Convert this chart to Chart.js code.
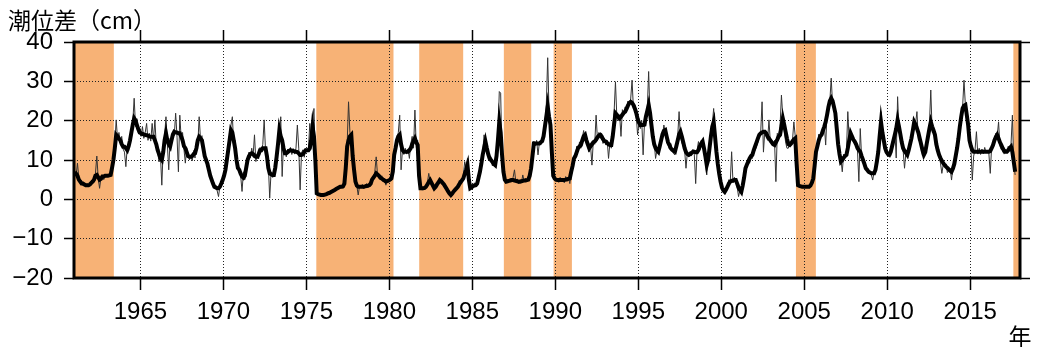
<!DOCTYPE html>
<html>
<head>
<meta charset="utf-8">
<script src="https://cdn.jsdelivr.net/npm/chart.js@4.4.0/dist/chart.umd.min.js"></script>
<style>
  html, body { margin: 0; padding: 0; background: #fff; }
  #wrap { width: 1064px; height: 347px; }
</style>
</head>
<body>
<div id="wrap"><canvas id="tide" width="1064" height="347"></canvas></div>
<script>
// monthly tide level difference (cm), Jan 1961 .. Sep 2017
var startYear = 1961;
var monthly = [
  6.5,6,9.2,5.5,4.2,4.8,3.5,3.9,3.2,4,3.3,4.2,            // 1961
  4.5,4.2,5.8,6.5,11,5.4,2.8,5.6,6.2,5,6.4,5.8,           // 1962
  6.3,5.9,6.5,7,10.5,14,20.2,15.2,17,14.4,16,12.8,        // 1963
  12,8.3,13.4,12.4,16,15.5,19.6,25.7,18.5,20.5,17,18.2,   // 1964
  16,18.5,15.5,17,19.3,15,16.8,14.8,19.3,15.2,20.2,13.5,  // 1965
  12,9.5,11.2,3.6,13,16,21,14,7.5,15.5,14.2,17,           // 1966
  16.2,21.9,15.8,7,21.4,15.5,17,12.8,9.2,13,11.5,10,      // 1967
  11.2,9.8,12.4,10.5,14.6,13.8,21,15,16.2,12,10.3,10.6,   // 1968
  9.5,6.8,6.5,4.2,4.6,2.8,3.6,2.2,0.7,3.4,3.5,5.5,        // 1969
  5.4,8.5,9.2,13,15.5,18.9,21,14,15,9,8.6,6.8,            // 1970
  6,2,7,5,9,8.8,12,10.5,13,11,16.4,9.6,                   // 1971
  11.5,10.3,13.2,12,14,20.2,12.2,12.5,9,0.3,7,5.6,        // 1972
  5.8,9,11,13.5,16,21,5.8,14,12.4,10.8,12.8,11.8,         // 1973
  13.2,11.4,12.9,11.5,13,18.9,13,2.4,11.8,12.6,10.7,12.9, // 1974
  12,12.8,19.3,14.8,19.5,23.1,9,1.8,1,1.4,0.8,1.5,        // 1975
  1.4,0.9,1.6,1.2,1.9,2.2,1.7,2.5,2.2,2.9,2.4,3.3,        // 1976
  3,3.5,2.8,4.5,8.5,14,24.8,17,15,10,7,4,                 // 1977
  3.4,1.1,3.5,3,3.8,2.7,3.6,4,2.9,3.9,4.2,5.4,            // 1978
  5.2,7,10.8,6,6.4,5,6,4.5,5.3,3.6,5,4.5,                 // 1979
  5.6,4.8,8,12,14,15.5,17,21.4,7.5,12.6,11.4,13,          // 1980
  11.5,12.8,10.4,14,16,13,22.7,13.2,15,6,3.2,2.4,         // 1981
  2.5,3.3,2.9,4.2,6.6,4.6,4.5,3.1,2.5,3.6,3.4,4.8,        // 1982
  5.2,4.3,4.6,3.5,3.6,2.2,2.3,1.2,1.4,1.2,2.4,2.1,        // 1983
  3.2,3.1,4.8,4.6,5,6,9.6,8,10.4,4,2.4,3.4,               // 1984
  3.2,4.2,3.4,4.6,5,7.4,9.5,12,16.4,14,13.6,10.8,         // 1985
  10,10.8,8.5,9.2,8.4,11.5,16,27.4,27,10,6,5,             // 1986
  4.2,5,4.4,5.3,4.5,5.6,7.5,4.3,5.2,4,5,4.2,              // 1987
  6.2,4.6,5.4,4.8,5.8,6.5,8.4,11.3,14.8,13.6,15,11.3,     // 1988
  14.5,13.8,15,17,19.5,24,36,22,17,11,5.5,5,              // 1989
  4.6,5.4,4.3,5.6,4.8,5.2,4.2,5.8,4.6,5.6,4,6.5,          // 1990
  8,11,10.5,13.5,12.4,14.6,13,15.6,17.5,15,16,13.6,       // 1991
  12,13.5,8.7,15,14,21.4,15,17,15.5,16.8,14.2,15.6,       // 1992
  13.8,15,10.4,14.4,13,18,22,29.9,21,20,21.5,16,          // 1993
  22.8,21.6,23.5,22.5,25,24,25.5,30.3,23,24,21.4,16.4,    // 1994
  19.4,18,20,11.3,19.5,21,23,32.5,21,19.6,17.6,14.5,      // 1995
  10.4,12.5,11.6,13,15.5,16,18.9,17,16.4,14,12.8,14.2,    // 1996
  12.6,11.6,11.3,14,16,22.3,15.8,14.4,13.5,12.5,7.9,12,   // 1997
  10.8,12.2,11,12.7,11.5,4,12.4,14.7,12.6,15,14.4,12.5,   // 1998
  10.5,6.2,10.4,13,17,19,23.1,15,11,9.4,6,4,              // 1999
  3.4,2.5,1.6,2.8,3.2,5,4.4,12.1,4.2,5.6,4.7,3.2,         // 2000
  0.7,2.4,1.6,3.5,5,6.5,8.4,10,9.2,11.2,10.4,11.8,        // 2001
  12.5,13.5,14.5,16,17,24.8,12,17.6,16,15,20.2,14.4,      // 2002
  15,14.4,15,4.5,16.8,16,18.5,26.5,21,17.8,14.6,13,       // 2003
  13,14.5,14,15,19.7,16,9,3.2,3.8,3,3.5,2.9,              // 2004
  3.5,2.9,3.4,3,3.6,4.4,6,9.5,13,12.5,16.6,15.5,          // 2005
  17.2,16.5,19,13.8,22,23.5,25,30.8,24,24.5,21,17,        // 2006
  13.5,11,10.4,7,11.5,10.8,12,22.3,15,17.5,15.4,14.8,     // 2007
  15,13.6,12.4,4.5,18,10.5,10.4,8.6,7.6,8,6.5,7.2,        // 2008
  6.2,4.9,7,8,10.5,12.6,17,22.3,16,15.5,12.4,11.5,        // 2009
  10.8,12,11,14.5,15.6,17.5,10.5,26.1,17.5,16,14.6,12.4,  // 2010
  7.9,12,11,12.6,14.5,16,18,19.8,19.3,22.3,15,14.6,       // 2011
  13.5,11,12,11.5,15,16.5,19,27.8,17,16.8,15.5,13,        // 2012
  12,11.5,9.2,6.6,8.8,8.2,9,6.8,7.4,7.8,4.9,8.2,          // 2013
  8.5,11.4,13.5,15.6,18.5,21,23.5,30.3,24,21,18,14.6,     // 2014
  13,4.9,11,12.6,17.2,11.5,13,11.4,12.8,11.6,13.2,11.8,   // 2015
  12.5,11.6,6.6,13.4,14,15.5,16.8,16,19.7,13.5,12.6,13,   // 2016
  11.5,12.8,11.8,13.5,12.5,14,21.4,9,6.2                  // 2017
];

// smoothed curve (thick line), same months
var smooth = [
  7,6.5,6,5,4.5,4,4,3.8,3.6,3.6,3.6,3.8,
  4.2,4.5,5,6,6.2,5.6,5,5.2,5.8,5.8,6,6,
  6,6.1,6.2,8,10,13,16.4,16,15.5,15,14,13.4,
  13.4,13,12.5,13.5,15,17,19,20.6,20,18.9,17.8,17,
  16.8,16.6,16.5,16.4,16.3,16.2,16,15.9,15.9,15.9,15,14,
  12.5,11.5,10.5,10,12,15,16.8,15,14,13.4,15,16.5,
  17.2,17,17,16.8,16.8,16,15,13.5,13,12,11,10.8,
  10.8,11,11.5,11.7,13,15,15.9,15.5,15,13,11,10,
  9,7.5,6,5,4,3.2,3,2.8,2.8,3.2,4,4.9,
  6,7.5,10,12.5,15,17.6,17,15,13,10,8,7.5,
  6.5,5.8,5.5,6,8,10,11,11.5,11.7,11.5,11,10.8,
  10.8,11.5,12.5,12.5,13,13,13,11,8,6.6,6.4,6.2,
  6.2,8,10.8,14,17.6,16,15,13,11.7,11.7,12,12.3,
  12.5,12.4,12.3,12.2,12.1,12,11.7,11.3,11.3,11.5,12,12.5,
  12.5,12.5,13,15,18.5,16,10,1.5,1.3,1.2,1.1,1.1,
  1.1,1.2,1.3,1.5,1.6,1.8,2,2.2,2.4,2.6,2.8,3,
  3.2,3.2,3.3,4,8,13.4,15,16,16.4,11,7.5,4.5,
  3.5,3.2,3.2,3.2,3.2,3.2,3.3,3.4,3.5,3.6,4,5,
  5.5,6,6.6,6.3,6,5.5,5.3,5,4.8,4.5,4.6,4.8,
  5,5.3,7,11.3,13,15,16,16.4,14,12.5,12.1,12.1,
  12.1,12.1,12.5,13,14,14.8,15.5,14.5,13.8,6,2.8,2.8,
  2.8,2.9,3.2,3.8,4.4,4.9,4.2,3.5,2.8,3.2,3.8,4.3,
  4.9,4.6,4.2,3.8,3.2,2.6,2,1.5,1.1,1.5,2,2.4,
  2.8,3.2,3.8,4.3,4.8,5.3,6.5,7.5,8.7,5,2.8,3,
  3.4,3.5,3.6,4,5.5,7,9,11.3,13,14.7,13,11.5,
  10.4,10,9.5,9,8.7,11,15,19.7,17,11.3,7,5,
  4.5,4.6,4.7,4.8,4.9,4.9,4.8,4.7,4.6,4.5,4.5,4.6,
  4.7,4.8,4.8,4.9,5,6,7.9,11,14.2,14.2,14.2,14.2,
  14.2,14.5,14.8,16,18.5,21,23.6,21,18.9,12,6,5.3,
  5,4.9,4.9,4.9,4.9,4.9,4.9,5,5.1,5.2,5.3,7,
  8.5,10.4,11,12,13,13.5,13.8,15,16,16.4,15,14,
  13,13.5,14,14.5,14.7,15.2,15.8,16.2,16.4,16,15.3,14.8,
  14.7,14.3,14,13.8,13.8,16,19,21.9,21.5,21,20.6,21,
  21.5,22,22.3,23,23.8,24.5,24.8,24.5,24,23.1,22,20.5,
  19.5,18.9,18.9,18.9,19,21,22.5,24,22,18.9,16,14,
  13,12.5,12.1,13.5,15,16.5,17.4,17.6,16,14.5,13.8,13,
  12.6,12.3,12.1,13.5,15,16.5,17.2,16,14.5,13,12,11.5,
  11.3,11.5,11.8,12.1,12.1,12,12,12.5,13.5,14.2,14.7,13,
  11,8.7,10,13,16,18.5,19.7,16,12.1,9,6.5,4.5,
  3,2.3,1.9,2.5,3.2,4,4.5,4.7,4.8,4.9,4.9,4,
  3,2.4,1.9,3.5,5.5,7.9,8.8,9.6,10.4,11,11.3,12.5,
  13.5,14.5,15.5,16.4,16.8,17,17.2,17.2,16.8,16,15.5,15,
  14.5,14,13.8,14.5,15.2,16,16.4,18.5,20.6,19,17.2,15.5,
  14,13.8,14.2,14.8,15.2,15.5,9,3.6,3.4,3.3,3.2,3.2,
  3.2,3.2,3.2,3.2,3.5,4.2,5.3,8.5,12.1,13.5,15,16,
  16.4,17.5,18.5,19.7,21.5,23.5,25,25.7,25,23.5,21.9,18,
  14,11.5,9.6,10,10.6,11,11.3,13,15,16.8,16,15.2,
  14.7,14,13,12.5,12.1,11,10,9,7.9,7.5,7,6.8,
  6.6,6.6,6.6,7.5,9.6,12,16,19.7,17,15,13,12,
  11.5,11.3,12,13.5,15,16.4,18,20.2,18.5,16.5,14.5,13,
  12.3,11.8,11.3,12.5,14,15.5,17.5,19.7,19,18,17,15.5,
  14,12.5,11.3,12,14,16,18,19.7,18.5,17.5,16.4,14,
  12.5,11.3,10.5,9.8,9.2,8.7,8.3,8,7.6,7.3,7,7.8,
  9,11,13,15.5,18.5,21,23.1,23.8,24,21.5,18.9,15,
  13.5,12.5,12.1,12.1,12.1,12.1,12.1,12.1,12.1,12.1,12.1,12.1,
  12.1,12.1,12.3,13,13.8,15,15.8,16.4,15.5,14.5,13.8,13,
  12.3,12.1,12.1,12.5,13,13.4,12,9.5,7
];

// large meander periods (shaded)
var meanderStart = [1961.0, 1975.6, 1981.8, 1986.9, 1989.9, 2004.5, 2017.6];
var meanderEnd   = [1963.4, 1980.25, 1984.45, 1988.55, 1991.0, 2005.7, 2018.0];

var yearTicks = [1965, 1970, 1975, 1980, 1985, 1990, 1995, 2000, 2005, 2010, 2015];
var levelTicks = [-20, -10, 0, 10, 20, 30, 40];

var rawPoints = monthly.map(function(v, i){ return {x: startYear + (i + 0.5) / 12, y: v}; });
var smoothPoints = smooth.map(function(v, i){ return {x: startYear + (i + 0.5) / 12, y: v}; });

var tickFont = { family: "'Liberation Sans', Arial, sans-serif", size: 24 };
var bandColor = 'rgb(247,178,118)';

var bands = {
  id: 'bands',
  beforeDraw: function(chart){
    var c = chart.ctx, a = chart.chartArea, xs = chart.scales.x;
    c.save();
    c.fillStyle = bandColor;
    for (var i = 0; i < meanderStart.length; i++) {
      var x0 = Math.max(xs.getPixelForValue(meanderStart[i]), a.left);
      var x1 = Math.min(xs.getPixelForValue(meanderEnd[i]), a.right);
      c.fillRect(x0, a.top, x1 - x0, a.bottom - a.top);
    }
    c.restore();
  },
  afterDraw: function(chart){
    var c = chart.ctx, a = chart.chartArea;
    c.save();
    c.strokeStyle = '#000';
    c.lineWidth = 3;
    c.strokeRect(a.left, a.top, a.right - a.left, a.bottom - a.top);
    c.fillStyle = '#000';
    c.font = "23px 'Noto Sans CJK JP', sans-serif";
    c.textBaseline = 'middle';
    c.textAlign = 'left';
    c.fillText('潮位差（cm）', 8, 20);
    c.textAlign = 'center';
    c.fillText('年', 1020, 336);
    c.restore();
  }
};

function fixTicks(list){
  return function(scale){
    scale.ticks = list.map(function(v){ return {value: v}; });
  };
}

var gridCommon = {
  color: '#222',
  lineWidth: 1,
  tickColor: '#000',
  tickWidth: 1.5,
  tickBorderDash: []
};

new Chart(document.getElementById('tide'), {
  type: 'line',
  data: {
    datasets: [
      { data: smoothPoints, borderColor: '#000', borderWidth: 4, pointRadius: 0, tension: 0, xAxisID: 'x', yAxisID: 'y' },
      { data: rawPoints, borderColor: '#333', borderWidth: 1, pointRadius: 0, tension: 0, xAxisID: 'x', yAxisID: 'y' }
    ]
  },
  options: {
    responsive: false,
    animation: false,
    devicePixelRatio: 1,
    layout: { padding: 0 },
    plugins: { legend: { display: false }, tooltip: { enabled: false } },
    scales: {
      x: {
        type: 'linear', position: 'bottom', min: 1961, max: 2018,
        afterBuildTicks: fixTicks(yearTicks),
        afterFit: function(s){ s.height = 69; },
        grid: Object.assign({ tickLength: 12 }, gridCommon),
        border: { display: false, dash: [1, 2] },
        ticks: { color: '#000', font: tickFont, padding: 8, maxRotation: 0, autoSkip: false,
                 callback: function(v){ return String(v); } }
      },
      xTop: {
        type: 'linear', position: 'top', min: 1961, max: 2018,
        afterBuildTicks: fixTicks(yearTicks),
        afterFit: function(s){ s.height = 42; },
        grid: Object.assign({ tickLength: 12, drawOnChartArea: false }, gridCommon),
        border: { display: false },
        ticks: { display: true, color: 'rgba(0,0,0,0)', font: { size: 1 }, padding: 0 }
      },
      y: {
        position: 'left', min: -20, max: 40,
        afterBuildTicks: fixTicks(levelTicks),
        afterFit: function(s){ s.width = 74; },
        grid: Object.assign({ tickLength: 10 }, gridCommon),
        border: { display: false, dash: [1, 2] },
        ticks: { color: '#000', font: tickFont, padding: 11,
                 callback: function(v){ return v < 0 ? '\u2212' + Math.abs(v) : String(v); } }
      },
      yRight: {
        position: 'right', min: -20, max: 40,
        afterBuildTicks: fixTicks(levelTicks),
        afterFit: function(s){ s.width = 44; },
        grid: Object.assign({ tickLength: 10, drawOnChartArea: false }, gridCommon),
        border: { display: false },
        ticks: { display: true, color: 'rgba(0,0,0,0)', font: { size: 1 }, padding: 0 }
      }
    }
  },
  plugins: [bands]
});
</script>
</body>
</html>
